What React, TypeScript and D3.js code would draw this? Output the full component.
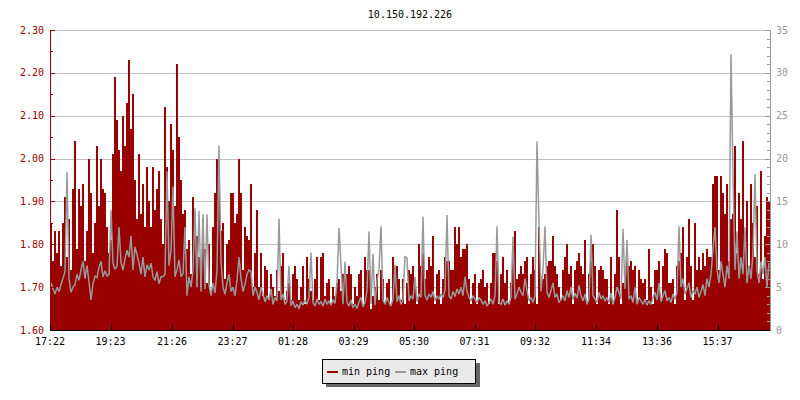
import React from 'react';
import * as d3 from 'd3';

const TITLE = '10.150.192.226';
const START_TIME = '17:22';
const SPAN_MINUTES = 1440;
const X_TICK_LABELS = ['17:22', '19:23', '21:26', '23:27', '01:28', '03:29', '05:30', '07:31', '09:32', '11:34', '13:36', '15:37'];
const LEFT_TICKS = [1.6, 1.7, 1.8, 1.9, 2.0, 2.1, 2.2, 2.3];
const LEFT_MINOR = [1.65, 1.75, 1.85, 1.95, 2.05, 2.15, 2.25];
const RIGHT_TICKS = [0, 5, 10, 15, 20, 25, 30, 35];
const SERIES_NAMES = ['min ping', 'max ping'];

// min ping (left axis), one value per 4-minute slot
const minPing = [
  1.85, 1.76, 1.83, 1.78, 1.83, 1.75, 1.85, 1.91, 1.77, 1.86,
  1.74, 1.93, 2.04, 1.79, 1.93, 1.89, 1.94, 1.76, 1.83, 2.00,
  1.92, 1.78, 1.85, 2.03, 1.89, 2.00, 1.93, 1.92, 1.84, 1.78,
  1.81, 2.01, 2.19, 2.09, 2.02, 1.97, 2.10, 2.03, 2.13, 2.23,
  2.07, 2.15, 1.95, 1.86, 2.01, 1.87, 1.94, 1.84, 1.98, 1.90,
  1.84, 1.98, 1.88, 1.93, 1.97, 1.86, 1.80, 2.12, 1.98, 1.90,
  2.08, 2.02, 1.89, 2.22, 2.05, 1.95, 1.87, 1.88, 1.79, 1.81,
  1.73, 1.91,
  1.85, 1.82, 1.77, 1.70, 1.86, 1.79, 1.71, 1.80, 1.69, 1.84,
  1.92, 2.00, 1.95, 1.83, 1.85, 1.72, 1.80, 1.81, 1.92, 1.92,
  1.85, 1.87, 2.00, 1.92, 1.74, 1.84, 1.82, 1.81, 1.94, 1.70,
  1.78, 1.88, 1.70, 1.78, 1.68, 1.75, 1.74, 1.67, 1.73, 1.70,
  1.68, 1.74, 1.69, 1.75, 1.78, 1.67, 1.69, 1.71, 1.67, 1.73,
  1.75, 1.72, 1.67, 1.70, 1.75, 1.66, 1.77, 1.72, 1.69, 1.67,
  1.72, 1.77, 1.67, 1.77, 1.78, 1.68, 1.71, 1.72, 1.66, 1.70,
  1.68, 1.71,
  1.72, 1.69, 1.73, 1.72, 1.73, 1.75, 1.73, 1.66, 1.70, 1.68,
  1.73, 1.74, 1.66, 1.77, 1.74, 1.74, 1.65, 1.68, 1.70, 1.73,
  1.67, 1.74, 1.72, 1.66, 1.71, 1.72, 1.66, 1.77, 1.73, 1.75,
  1.72, 1.67, 1.72, 1.66, 1.71, 1.74, 1.73, 1.75, 1.72, 1.66,
  1.80, 1.75, 1.78, 1.72, 1.74, 1.77, 1.75, 1.82, 1.66, 1.73,
  1.74, 1.66, 1.72, 1.77, 1.76, 1.76, 1.74, 1.74, 1.84, 1.80,
  1.84, 1.77, 1.79, 1.79, 1.80, 1.72, 1.66, 1.71, 1.73, 1.66,
  1.71, 1.72,
  1.74, 1.70, 1.71, 1.66, 1.71, 1.78, 1.78, 1.76, 1.66, 1.73,
  1.77, 1.71, 1.74, 1.66, 1.71, 1.77, 1.83, 1.72, 1.73, 1.75,
  1.73, 1.76, 1.77, 1.66, 1.73, 1.77, 1.74, 1.66, 1.84, 1.72,
  1.72, 1.73, 1.75, 1.76, 1.76, 1.82, 1.75, 1.73, 1.70, 1.67,
  1.74, 1.77, 1.80, 1.73, 1.75, 1.66, 1.74, 1.76, 1.78, 1.75,
  1.73, 1.81, 1.66, 1.73, 1.76, 1.80, 1.75, 1.66, 1.74, 1.75,
  1.74, 1.72, 1.72, 1.66, 1.77, 1.66, 1.73, 1.88, 1.77, 1.66,
  1.71, 1.71,
  1.77, 1.75, 1.76, 1.74, 1.75, 1.67, 1.74, 1.72, 1.71, 1.72,
  1.67, 1.79, 1.70, 1.66, 1.74, 1.74, 1.76, 1.67, 1.75, 1.79,
  1.78, 1.71, 1.71, 1.72, 1.66, 1.75, 1.76, 1.78, 1.84, 1.67,
  1.77, 1.86, 1.75, 1.67, 1.85, 1.74, 1.77, 1.74, 1.78, 1.75,
  1.79, 1.77, 1.77, 1.94, 1.96, 1.96, 1.74, 1.96, 1.92, 1.87,
  1.94, 1.76, 1.86, 1.87, 2.03, 1.78, 1.92, 1.86, 2.04, 1.80,
  1.90, 1.75, 1.94, 1.85, 1.77, 1.89, 1.73, 1.97, 1.72, 1.82,
  1.91, 1.90,
];

// max ping (right axis), one value per 4-minute slot
const maxPing = [
  5.5, 4.8, 4.2, 5.0, 4.5, 5.3, 6.0, 6.8, 18.4, 6.0,
  4.4, 5.0, 5.3, 6.5, 5.8, 7.0, 8.0, 6.0, 7.5, 5.6,
  3.5, 5.4, 6.3, 6.1, 7.3, 8.0, 6.2, 6.9, 6.3, 6.5,
  14.0, 7.8, 7.1, 7.4, 12.0, 7.9, 7.0, 8.3, 9.3, 8.5,
  11.0, 7.0, 9.7, 8.8, 7.8, 6.5, 8.5, 6.2, 7.6, 7.0,
  7.8, 6.2, 5.8, 6.8, 5.4, 6.2, 6.2, 6.5, 18.5, 7.5,
  9.3, 16.7, 6.2, 7.0, 8.2, 6.2, 6.6, 12.0, 4.0, 6.2,
  5.0, 7.0,
  14.2, 5.0, 13.9, 4.5, 13.5, 4.8, 13.5, 5.2, 4.0, 5.5,
  4.3, 7.0, 21.5, 8.0, 5.0, 4.2, 5.5, 6.5, 4.5, 5.0,
  4.0, 5.8, 8.5, 6.0, 4.5, 5.3, 6.5, 7.0, 6.8, 4.0,
  5.0, 4.4, 3.5, 5.0, 4.2, 3.3, 4.0, 3.5, 4.8, 3.0,
  3.8, 3.4, 13.0, 3.5, 4.2, 3.0, 3.4, 7.5, 2.8, 3.4,
  2.6, 3.0, 2.5, 3.3, 2.9, 3.5, 3.0, 3.8, 9.0, 3.2,
  2.8, 3.6, 3.0, 3.3, 2.8, 3.6, 3.0, 3.4, 2.9, 3.5,
  3.1, 5.5,
  11.9, 7.5, 3.0, 8.0, 3.2, 2.8, 3.5, 2.6, 3.0, 2.5,
  3.3, 3.8, 2.7, 3.2, 4.6, 11.5, 3.0, 8.9, 2.9, 5.8,
  7.0, 12.1, 3.5, 3.0, 3.8, 3.2, 2.8, 3.6, 7.6, 3.3,
  4.0, 3.0, 3.5, 8.6, 8.4, 3.4, 4.0, 3.6, 6.2, 3.3,
  4.2, 3.8, 13.2, 4.0, 3.5, 4.2, 3.8, 4.5, 3.4, 4.0,
  3.6, 4.2, 3.8, 4.6, 13.4, 4.0, 3.6, 4.5, 3.9, 4.8,
  4.2, 5.0, 4.0, 6.2, 4.5, 3.8, 3.4, 4.0, 3.6, 3.2,
  3.8, 3.5,
  3.0, 3.4, 2.8, 3.2, 3.6, 3.0, 4.0, 12.1, 3.2, 3.0,
  3.6, 2.9, 3.4, 3.0, 3.8, 10.9, 3.6, 4.2, 5.0, 4.4,
  4.0, 6.0, 4.6, 3.4, 3.8, 3.2, 4.0, 22.0, 12.4, 4.5,
  7.0, 12.1, 4.4, 3.8, 4.6, 5.5, 3.8, 4.2, 3.2, 3.6,
  4.0, 3.4, 4.6, 3.8, 5.0, 3.5, 4.3, 3.7, 5.2, 4.0,
  3.4, 4.2, 3.0, 3.6, 11.1, 4.0, 3.6, 3.2, 4.4, 3.6,
  4.0, 3.4, 3.8, 3.2, 4.3, 3.0, 3.8, 5.0, 4.4, 3.6,
  11.8, 4.8,
  10.5, 3.6, 4.0, 3.2, 5.0, 3.0, 3.8, 3.4, 3.0, 3.6,
  2.9, 3.4, 3.0, 3.8, 4.4, 3.5, 5.5, 3.3, 4.0, 4.6,
  3.4, 3.8, 3.2, 4.2, 3.6, 4.4, 12.1, 5.0, 6.0, 4.2,
  4.8, 5.5, 3.8, 4.6, 4.2, 5.0, 3.8, 4.5, 5.3, 4.0,
  6.0, 5.0, 6.5, 9.5, 12.0, 7.0, 5.5, 8.0, 6.5, 5.0,
  7.5, 6.0, 32.2, 18.2, 7.0, 11.5, 6.0, 8.5, 6.5, 12.0,
  5.5, 7.5, 6.0, 9.0, 18.2, 7.0, 5.5, 8.0, 6.5, 8.5,
  5.0, 7.8,
];

const RED = '#990000';
const GRAY = '#999999';
const FONT = "'DejaVu Sans Mono', monospace";

const toMinutes = (s: string) => {
  const [h, m] = s.split(':').map(Number);
  return h * 60 + m;
};

export default function App() {
  const W = 800, H = 400;
  const L = 50, R = 770, T = 30, B = 330;
  const N = minPing.length;

  const x = d3.scaleLinear().domain([0, N]).range([L, R]);
  const xt = d3.scaleLinear().domain([0, SPAN_MINUTES]).range([L, R]);
  const yL = d3.scaleLinear().domain([1.6, 2.3]).range([B, T]);
  const yR = d3.scaleLinear().domain([0, 35]).range([B, T]);

  const start = toMinutes(START_TIME);
  const xTicks = X_TICK_LABELS.map((lab) => ({
    lab,
    pos: xt((toMinutes(lab) - start + 1440) % 1440),
  }));

  const rightMinor = d3.range(0, 36, 1).filter((v) => v % 5 !== 0);

  const maxLine = d3
    .line<number>()
    .x((_, i) => x(i + 0.5))
    .y((d) => yR(d))
    .curve(d3.curveLinear)(maxPing) as string;

  return (
    <svg
      width={W}
      height={H}
      style={{ position: 'absolute', left: 0, top: 0, background: '#fff' }}
      fontFamily={FONT}
      fontSize={10}
    >
      <rect x={0} y={0} width={W} height={H} fill="#fff" />
      <text x={(L + R) / 2} y={14} dy="0.35em" textAnchor="middle" fill="#000">
        {TITLE}
      </text>

      {/* grid */}
      <g shapeRendering="crispEdges">
        {LEFT_TICKS.filter((v) => v > 1.6).map((v) => (
          <line key={v} x1={L} x2={R} y1={Math.round(yL(v)) + 0.5} y2={Math.round(yL(v)) + 0.5} stroke="#c0c0c0" />
        ))}
      </g>

      {/* min ping bars */}
      <g shapeRendering="crispEdges" fill={RED}>
        {minPing.map((v, i) => (
          <rect key={i} x={x(i)} width={x(i + 1) - x(i)} y={yL(v)} height={B - yL(v)} />
        ))}
      </g>

      {/* max ping line */}
      <path d={maxLine} fill="none" stroke={GRAY} strokeWidth={1.5} strokeLinejoin="miter" strokeMiterlimit={2} />

      {/* left axis */}
      <g shapeRendering="crispEdges" stroke={RED}>
        <line x1={L + 0.5} x2={L + 0.5} y1={T} y2={B} />
        {LEFT_TICKS.map((v) => (
          <line key={v} x1={L} x2={L + 5} y1={Math.round(yL(v)) + 0.5} y2={Math.round(yL(v)) + 0.5} />
        ))}
        {LEFT_MINOR.map((v) => (
          <line key={v} x1={L} x2={L + 3} y1={Math.round(yL(v)) + 0.5} y2={Math.round(yL(v)) + 0.5} />
        ))}
      </g>
      {LEFT_TICKS.map((v) => (
        <text key={v} x={44} y={yL(v)} dy="0.35em" textAnchor="end" fill={RED}>
          {d3.format('.2f')(v)}
        </text>
      ))}

      {/* right axis */}
      <g shapeRendering="crispEdges" stroke={GRAY}>
        <line x1={R + 0.5} x2={R + 0.5} y1={T} y2={B + 1} />
        {RIGHT_TICKS.map((v) => (
          <line key={v} x1={R - 5} x2={R} y1={Math.round(yR(v)) + 0.5} y2={Math.round(yR(v)) + 0.5} />
        ))}
        {rightMinor.map((v) => (
          <line key={v} x1={R - 3} x2={R} y1={Math.round(yR(v)) + 0.5} y2={Math.round(yR(v)) + 0.5} />
        ))}
      </g>
      {RIGHT_TICKS.map((v) => (
        <text key={v} x={776} y={yR(v)} dy="0.35em" textAnchor="start" fill={GRAY}>
          {v}
        </text>
      ))}

      {/* bottom axis */}
      <g shapeRendering="crispEdges" stroke="#000">
        <line x1={L} x2={R} y1={B + 0.5} y2={B + 0.5} />
        {xTicks.map((t) => (
          <line key={t.lab} x1={Math.round(t.pos) + 0.5} x2={Math.round(t.pos) + 0.5} y1={B - 5} y2={B} />
        ))}
      </g>
      {xTicks.map((t) => (
        <text key={t.lab} x={t.pos} y={341} dy="0.35em" textAnchor="middle" fill="#000">
          {t.lab}
        </text>
      ))}

      {/* legend */}
      <g>
        <rect x={326} y={363} width={154} height={24} fill="#666666" />
        <rect x={322.5} y={359.5} width={153} height={24} fill="#e9e9e9" stroke="#000" shapeRendering="crispEdges" />
        <line x1={327} x2={338} y1={372} y2={372} stroke={RED} strokeWidth={2} shapeRendering="crispEdges" />
        <text x={342} y={371} dy="0.35em" fill="#000">{SERIES_NAMES[0]}</text>
        <line x1={395} x2={406} y1={372} y2={372} stroke={GRAY} strokeWidth={2} shapeRendering="crispEdges" />
        <text x={410} y={371} dy="0.35em" fill="#000">{SERIES_NAMES[1]}</text>
      </g>
    </svg>
  );
}
